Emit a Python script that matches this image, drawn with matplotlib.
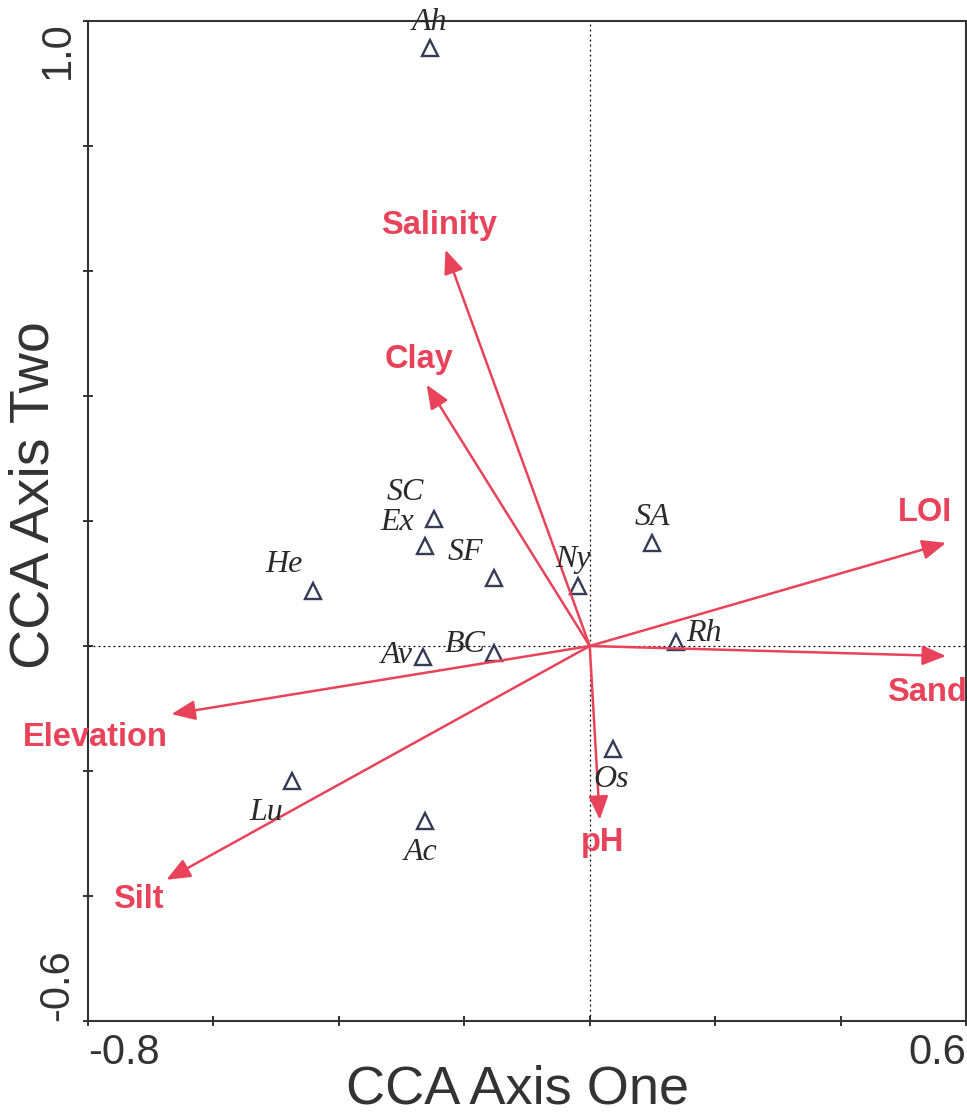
import matplotlib
matplotlib.use("Agg")
from matplotlib import pyplot as plt
import numpy as np

# species scores (triangles)
species = ["Ah", "SC", "Ex", "SF", "Ny", "SA", "He", "Av", "BC", "Rh", "Os", "Lu", "Ac"]
sp_x = [-0.255, -0.249, -0.263, -0.153, -0.019, 0.099, -0.442, -0.266, -0.153, 0.137, 0.037, -0.475, -0.263]
sp_y = [0.957, 0.203, 0.160, 0.109, 0.096, 0.165, 0.088, -0.018, -0.011, 0.006, -0.165, -0.216, -0.280]
# label positions of species names
lab_x = [-0.255, -0.294, -0.307, -0.198, -0.026, 0.100, -0.487, -0.307, -0.198, 0.182, 0.034, -0.515, -0.269]
lab_y = [0.998, 0.246, 0.198, 0.150, 0.139, 0.206, 0.130, -0.015, 0.002, 0.020, -0.214, -0.267, -0.330]

# environmental vectors
env = ["Salinity", "Clay", "LOI", "Sand", "pH", "Elevation", "Silt"]
env_x = [-0.230, -0.260, 0.568, 0.568, 0.016, -0.667, -0.675]
env_y = [0.634, 0.418, 0.165, -0.016, -0.278, -0.109, -0.374]
env_lx = [-0.240, -0.272, 0.535, 0.537, 0.021, -0.788, -0.720]
env_ly = [0.673, 0.458, 0.213, -0.074, -0.314, -0.147, -0.405]

red = "#e8435a"
dark = "#333333"

fig = plt.figure(figsize=(9.67, 11.16), dpi=100)
ax = fig.add_axes([0.091, 0.0851, 0.908, 0.8961])
ax.set_xlim(-0.8, 0.6)
ax.set_ylim(-0.6, 1.0)

ax.axhline(0, color="black", lw=0.9, ls=(0, (1.5, 2.5)))
ax.axvline(0, color="black", lw=0.9, ls=(0, (1.5, 2.5)))

for i in range(len(env)):
    ax.annotate("", xy=(env_x[i], env_y[i]), xytext=(0, 0),
                arrowprops=dict(arrowstyle="-|>,head_length=0.6,head_width=0.25", color=red, lw=1.8,
                                mutation_scale=24, shrinkA=0, shrinkB=0))
    ax.text(env_lx[i], env_ly[i], env[i], color=red, fontsize=23.5, fontweight="bold",
            family="Liberation Sans", ha="center", va="center")

ax.plot(sp_x, sp_y, ls="none", marker="^", ms=11, mfc="none", mec="#353a55", mew=1.7)
for i in range(len(species)):
    ax.text(lab_x[i], lab_y[i], species[i], fontsize=23, style="italic",
            family="Liberation Serif", color="#2a2a2a", ha="center", va="center")

xt = np.round(np.arange(-0.8, 0.61, 0.2), 1)
yt = np.round(np.arange(-0.6, 1.01, 0.2), 1)
ax.set_xticks(xt)
ax.set_yticks(yt)
ax.set_xticklabels(["-0.8"] + [""] * (len(xt) - 2) + ["0.6"], family="Liberation Sans", fontsize=30)
ax.set_yticklabels(["-0.6"] + [""] * (len(yt) - 2) + ["1.0"], family="Liberation Sans", fontsize=30,
                   rotation=90)
xl = ax.get_xticklabels()
xl[0].set_ha("left")
xl[-1].set_ha("right")
yl = ax.get_yticklabels()
yl[0].set_va("bottom")
yl[-1].set_va("top")
ax.tick_params(direction="inout", length=7, width=1.4, colors=dark)
ax.tick_params(axis="x", pad=5)
ax.tick_params(axis="y", pad=4)
for s in ax.spines.values():
    s.set_linewidth(1.5)
    s.set_color(dark)

fig.text(0.535, 0.011, "CCA Axis One", family="Liberation Sans", fontsize=39, color=dark,
         ha="center", va="baseline")
fig.text(0.036, 0.556, "CCA Axis Two", family="Liberation Sans", fontsize=40, color=dark,
         ha="center", va="center", rotation=90)

plt.savefig("out.png", dpi=100)
